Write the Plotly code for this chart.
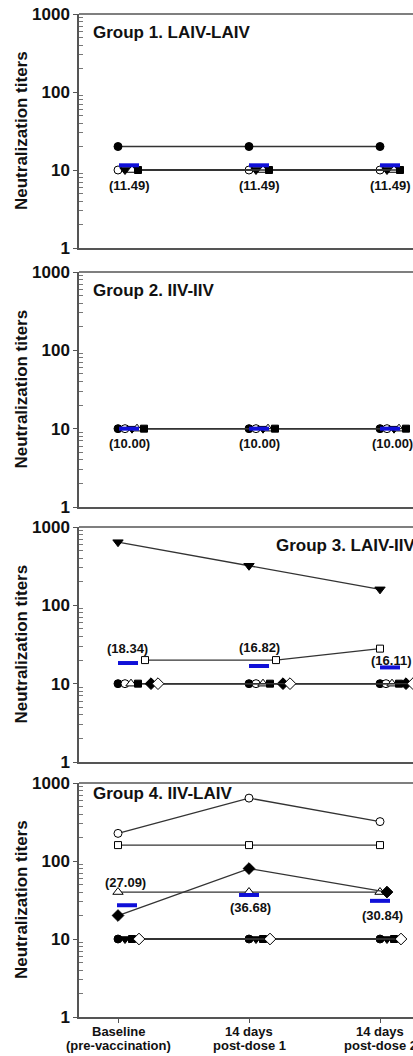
import math
import plotly.graph_objects as go

# ---------------- data ----------------
timepoints = ["Baseline<br>(pre-vaccination)", "14 days<br>post-dose 1", "14 days<br>post-dose 2"]
group_titles = ["Group 1. LAIV-LAIV", "Group 2. IIV-IIV", "Group 3. LAIV-IIV", "Group 4. IIV-LAIV"]

g1_markers = ["fcircle", "ocircle", "ftri", "otri", "fsquare"]
g1_values = [[20, 20, 20], [10, 10, 10], [10, 10, 10], [10, 10, 10], [10, 10, 10]]
g1_means = [11.49, 11.49, 11.49]

g2_markers = ["fcircle", "ocircle", "ftri", "otri", "fsquare"]
g2_values = [[10, 10, 10], [10, 10, 10], [10, 10, 10], [10, 10, 10], [10, 10, 10]]
g2_means = [10.00, 10.00, 10.00]

g3_markers = ["fcircle", "ocircle", "ftri", "otri", "fsquare", "osquare", "fdiamond", "odiamond"]
g3_values = [[10, 10, 10], [10, 10, 10], [640, 320, 160], [10, 10, 10],
             [10, 10, 10], [20, 20, 28], [10, 10, 10], [10, 10, 10]]
g3_means = [18.34, 16.82, 16.11]

g4_markers = ["fcircle", "ocircle", "ftri", "otri", "fsquare", "osquare", "fdiamond", "odiamond"]
g4_values = [[10, 10, 10], [226, 640, 320], [10, 10, 10], [40, 40, 40],
             [10, 10, 10], [160, 160, 160], [20, 80, 40], [10, 10, 10]]
g4_means = [27.09, 36.68, 30.84]

y_tickvals = [1, 10, 100, 1000]
y_ticktext = ["1", "10", "100", "1000"]

# ---------------- layout / style (pixels) ----------------
W, H = 413, 1056
LEFT = 79
CAT_PX = 118
STEP_PX = 131
panel_px = [(14, 248), (272, 507), (527, 762), (783, 1017)]

# horizontal jitter of markers (px) per series per time point
g1_jit = [[0, 0, 0], [0, 0, 0], [7, 7, 7], [14, 14, 14], [20, 20, 20]]
g2_jit = [[0, 0, 0], [7, 7, 7], [14, 14, 14], [19, 19, 19], [26, 26, 26]]
g3_jit = [[0, 0, 0], [7, 7, 6], [0, 0, 0], [13, 14, 12], [20, 21, 19],
          [27, 27, 0], [33, 34, 26], [40, 41, 33]]
g4_jit = [[0, 0, 0], [0, 0, 0], [7, 7, 7], [0, 0, 0], [14, 14, 14],
          [0, 0, 0], [0, 0, 7], [21, 21, 21]]
# blue mean bar start (px) and label placement
bar_start = [[1, 0, 0], [1, 0, 0], [0, 0, 0], [-1, -10, -10]]
BAR_LEN = 20
lab_dx = [[11, 10, 10], [11, 10, 12], [9, 10, 11], [7, 1, 2]]
lab_dy = [[-20, -20, -20], [-15, -15, -15], [15, 18, 7], [23, -13, -15]]
title_pos = [(91, 18, "left"), (91, 18, "left"), (274, 18, "left"), (91, 10, "left")]
xlab_dy = [-14, -28]   # centre of the two x-label lines below the bottom axis

FONT = "Arial, Liberation Sans, Helvetica, sans-serif"
SYM = {
    "fcircle": ("circle", "black", 8), "ocircle": ("circle", "white", 8),
    "ftri": ("triangle-down", "black", 9), "otri": ("triangle-up", "white", 9),
    "fsquare": ("square", "black", 7), "osquare": ("square", "white", 7),
    "fdiamond": ("diamond", "black", 9), "odiamond": ("diamond", "white", 9),
}

groups = [
    (g1_markers, g1_values, g1_means, g1_jit),
    (g2_markers, g2_values, g2_means, g2_jit),
    (g3_markers, g3_values, g3_means, g3_jit),
    (g4_markers, g4_values, g4_means, g4_jit),
]

fig = go.Figure()
annotations = []
shapes = []
u = 1.0 / STEP_PX  # px -> category units

for gi, (marks, vals, means, jit) in enumerate(groups):
    xa = "x" if gi == 0 else f"x{gi + 1}"
    ya = "y" if gi == 0 else f"y{gi + 1}"
    for si, m in enumerate(marks):
        sym, fill, size = SYM[m]
        xs = [t + jit[si][t] * u for t in range(3)]
        fig.add_trace(go.Scatter(
            x=xs, y=vals[si], mode="lines+markers", xaxis=xa, yaxis=ya,
            line=dict(color="#333333", width=1.3),
            marker=dict(symbol=sym, size=size, color=fill, line=dict(color="black", width=1)),
            showlegend=False, hoverinfo="skip"))
    bx, by = [], []
    for t in range(3):
        x0 = t + bar_start[gi][t] * u
        bx += [x0, x0 + BAR_LEN * u, None]
        by += [means[t], means[t], None]
        annotations.append(dict(
            x=t + lab_dx[gi][t] * u, y=math.log10(means[t]), xref=xa, yref=ya,
            text=f"<b>({means[t]:.2f})</b>", showarrow=False, yshift=lab_dy[gi][t],
            font=dict(family=FONT, size=13, color="#111111"),
            xanchor="center", yanchor="middle"))
    fig.add_trace(go.Scatter(
        x=bx, y=by, mode="lines", xaxis=xa, yaxis=ya,
        line=dict(color="#1010d8", width=4), showlegend=False, hoverinfo="skip"))

    # title
    tx, tdy, anc = title_pos[gi]
    annotations.append(dict(
        x=(tx - LEFT) / (W - LEFT), y=1, xref=f"{xa} domain", yref=f"{ya} domain",
        text=f"<b>{group_titles[gi]}</b>", showarrow=False, yshift=-tdy,
        xanchor=anc, yanchor="middle", font=dict(family=FONT, size=17, color="#111111")))
    # y-axis title
    annotations.append(dict(
        x=0, y=0.5, xref="paper", yref=f"{ya} domain", xshift=-58,
        text="<b>Neutralization titers</b>", textangle=-90, showarrow=False,
        xanchor="center", yanchor="middle", font=dict(family=FONT, size=17, color="#111111")))
    # top border
    shapes.append(dict(type="line", xref=f"{xa} domain", yref=f"{ya} domain",
                       x0=0, x1=1, y0=1, y1=1, line=dict(color="#555555", width=1.5)))

# x labels under the bottom panel
for t, lab in enumerate(timepoints):
    for li, line in enumerate(lab.split("<br>")):
        annotations.append(dict(
            x=t, y=0, xref="x4", yref="y4 domain", yshift=xlab_dy[li],
            text=f"<b>{line}</b>", showarrow=False, xanchor="center", yanchor="middle",
            font=dict(family=FONT, size=13, color="#111111")))

minor_vals = [k * 10 ** e for e in range(3) for k in range(2, 10)]
layout = dict(
    width=W, height=H, margin=dict(l=LEFT, r=0, t=0, b=0),
    paper_bgcolor="white", plot_bgcolor="white",
    annotations=annotations, shapes=shapes, showlegend=False,
    font=dict(family=FONT, color="#111111"),
)
x_range = [(LEFT - CAT_PX) / STEP_PX, (W - CAT_PX) / STEP_PX]
for gi in range(4):
    top, bot = panel_px[gi]
    key = "" if gi == 0 else str(gi + 1)
    last = gi == 3
    layout["xaxis" + key] = dict(
        domain=[0, 1], range=x_range, anchor="y" + key,
        tickvals=[0, 1, 2], showticklabels=False,
        ticks="outside" if last else "", ticklen=4,
        tickcolor="#555555", tickwidth=1.2,
        showline=True, linecolor="#555555", linewidth=1.5, showgrid=False, zeroline=False,
        automargin=False)
    layout["yaxis" + key] = dict(
        domain=[1 - bot / H, 1 - top / H], type="log", range=[0, 3], anchor="x" + key,
        tickvals=y_tickvals, ticktext=[f"<b>{t}</b>" for t in y_ticktext],
        ticks="outside", ticklen=4, tickcolor="#555555", tickwidth=1.2,
        minor=dict(tickvals=minor_vals, ticks="inside", ticklen=4,
                   tickcolor="#777777", tickwidth=1, showgrid=False),
        showline=True, linecolor="#555555", linewidth=1.5, showgrid=False, zeroline=False,
        tickfont=dict(family=FONT, size=17, color="#111111"), automargin=False)

fig.update_layout(**layout)
fig.write_html(
    "out.html",
    config={"displayModeBar": False},
    post_script="document.body.style.margin='0';document.body.style.overflow='hidden';",
)
